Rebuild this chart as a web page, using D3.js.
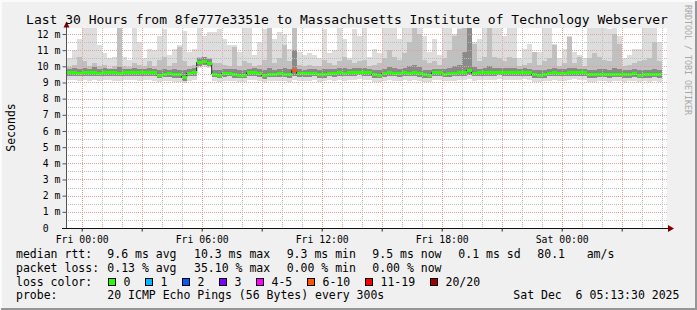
<!DOCTYPE html>
<html>
<head>
<meta charset="utf-8">
<script src="https://cdn.jsdelivr.net/npm/d3@7"></script>
<style>
body { margin: 0; background: #f0f0f0; }
svg { display: block; font-family: "DejaVu Sans Mono", monospace; }
text { white-space: pre; }
</style>
</head>
<body>
<div id="chart"></div>
<script>
// ---- data (15 minute samples starting Thu 23:15) ----
var median = [
9.60,9.62,9.58,9.62,9.60,9.63,9.58,9.60,9.62,9.60,
9.58,9.62,9.60,9.63,9.60,9.62,9.63,9.60,9.45,9.52,
9.55,9.50,9.48,9.32,9.58,9.60,10.25,10.30,10.20,9.52,
9.46,9.55,9.58,9.50,9.46,9.46,9.60,9.62,9.55,9.42,
9.52,9.52,9.55,9.52,9.50,9.75,9.56,9.56,9.56,9.58,
9.48,9.50,9.58,9.56,9.60,9.58,9.60,9.62,9.64,9.62,
9.60,9.50,9.45,9.55,9.60,9.58,9.56,9.60,9.58,9.60,
9.55,9.48,9.46,9.60,9.60,9.52,9.55,9.58,9.60,9.62,
9.75,9.58,9.60,9.62,9.60,9.62,9.64,9.62,9.60,9.60,
9.62,9.63,9.60,9.48,9.46,9.50,9.58,9.60,9.58,9.58,
9.62,9.63,9.62,9.60,9.50,9.48,9.52,9.52,9.50,9.52,
9.52,9.48,9.50,9.56,9.46,9.50,9.48,9.52,9.50];

// top of the light smoke (slowest ping)
var smokeMax = [
10.5,11.0,11.7,12.6,12.6,12.6,11.3,10.8,10.5,10.6,
12.6,10.6,10.4,12.6,11.5,10.5,11.1,11.0,11.9,12.3,
10.7,11.1,11.3,12.2,10.9,11.1,12.6,11.9,12.1,12.1,
12.3,11.7,11.3,11.3,10.9,12.6,12.6,10.7,11.5,12.3,
12.6,11.7,12.1,12.0,11.1,12.6,10.9,10.7,10.8,10.7,
10.5,12.3,10.8,11.0,12.6,11.7,10.5,12.3,11.9,12.6,
10.6,11.1,10.8,12.6,12.6,12.6,11.7,12.6,12.4,12.6,
12.6,11.9,10.9,11.7,10.7,12.6,12.6,12.0,12.6,12.6,
12.6,11.5,11.7,12.6,12.6,12.6,12.6,11.9,12.6,12.6,
10.5,11.1,11.4,10.9,10.9,12.6,12.6,11.4,10.5,11.1,
11.9,10.9,10.7,10.5,12.6,12.6,12.6,12.6,12.3,12.6,
11.9,10.5,10.7,11.1,11.1,12.6,12.6,12.6,11.5];

// top of the medium smoke
var smokeHi = [
9.95,10.1,10.6,10.3,10.0,10.2,10.0,10.1,9.9,10.0,
12.6,10.0,9.95,10.2,10.1,10.0,10.3,10.0,10.4,10.6,
10.0,10.2,11.2,10.3,10.0,10.1,10.6,10.5,10.5,10.2,
10.2,10.1,10.0,11.2,10.0,10.3,10.2,10.0,10.1,10.4,
12.6,10.2,10.5,11.3,10.3,12.6,10.1,10.0,10.1,10.0,
10.0,10.4,10.2,10.1,10.3,10.6,10.4,10.2,10.3,10.4,
10.0,10.1,10.2,10.5,11.0,10.6,10.4,10.8,11.5,12.6,
12.0,10.4,10.2,10.3,10.1,10.5,11.0,11.9,12.3,12.6,
12.6,11.4,10.3,10.6,12.6,10.6,10.5,10.3,10.6,10.5,
10.0,10.1,10.2,10.9,10.1,10.3,10.5,11.3,10.0,10.2,
11.8,10.2,10.6,10.0,10.5,10.8,10.6,10.4,10.3,12.0,
11.4,10.0,10.1,10.2,10.3,10.4,10.5,11.5,10.3];

// dark smoke band around the median
var smokeQ3 = [
9.85,9.90,9.85,9.90,9.85,9.95,9.85,9.90,9.85,9.85,
9.95,9.85,9.85,9.90,9.85,9.85,9.90,9.85,9.80,9.85,
9.80,9.85,9.80,9.75,9.85,9.90,10.50,10.55,10.45,9.80,
9.80,9.85,9.85,9.85,9.75,9.80,9.85,9.90,9.85,9.75,
9.90,9.80,9.85,9.90,9.85,11.0,9.85,9.80,9.85,9.85,
9.80,9.85,9.85,9.85,9.90,9.90,9.85,9.90,9.90,9.90,
9.85,9.80,9.75,9.85,9.95,9.90,9.85,9.90,10.0,10.1,
9.95,9.80,9.75,9.85,9.85,9.85,9.90,10.0,10.1,10.9,
12.6,9.95,9.85,9.90,10.0,9.90,9.90,9.90,9.90,9.90,
9.85,9.90,9.85,9.80,9.75,9.80,9.85,9.90,9.85,9.85,
9.90,9.90,9.85,9.85,9.80,9.80,9.85,9.85,9.80,9.90,
9.85,9.75,9.80,9.85,9.75,9.80,9.80,9.85,9.80];

var smokeQ1 = [
9.40,9.42,9.38,9.40,9.40,9.42,9.38,9.40,9.42,9.40,
9.38,9.40,9.40,9.42,9.38,9.40,9.42,9.40,9.25,9.32,
9.35,9.30,9.28,9.12,9.38,9.40,10.05,10.10,10.00,9.32,
9.28,9.35,9.38,9.30,9.28,9.28,9.40,9.42,9.35,9.22,
9.32,9.32,9.35,9.32,9.30,9.40,9.36,9.36,9.36,9.38,
9.28,9.30,9.38,9.36,9.40,9.38,9.40,9.42,9.44,9.42,
9.40,9.30,9.25,9.35,9.40,9.38,9.36,9.40,9.38,9.40,
9.35,9.28,9.26,9.40,9.40,9.32,9.35,9.38,9.40,9.42,
9.45,9.38,9.40,9.42,9.40,9.42,9.44,9.42,9.40,9.40,
9.42,9.43,9.40,9.28,9.26,9.30,9.38,9.40,9.38,9.38,
9.42,9.43,9.42,9.40,9.30,9.28,9.32,9.32,9.30,9.32,
9.32,9.28,9.30,9.36,9.26,9.30,9.28,9.32,9.30];

// bottom of the light smoke (fastest ping)
var smokeMin = [
9.15,9.18,9.12,9.15,9.12,9.18,9.10,9.15,9.18,9.12,
9.12,9.15,9.15,9.18,9.12,9.15,9.18,9.12,9.02,9.08,
9.10,9.05,9.05,8.95,9.12,9.15,9.90,9.95,9.88,9.10,
9.05,9.10,9.12,9.08,9.05,9.05,9.15,9.18,9.10,9.00,
9.08,9.10,9.12,9.08,9.05,9.15,9.12,9.10,9.12,9.15,
9.05,9.08,9.15,9.12,9.15,9.12,9.15,9.18,9.20,9.18,
9.15,9.05,9.02,9.10,9.15,9.12,9.10,9.15,9.12,9.15,
9.10,9.05,9.02,9.15,9.15,9.08,9.10,9.12,9.15,9.18,
9.20,9.12,9.15,9.18,9.15,9.18,9.20,9.18,9.15,9.15,
9.18,9.20,9.15,9.05,9.02,9.08,9.12,9.15,9.12,9.12,
9.18,9.20,9.18,9.15,9.05,9.02,9.08,9.08,9.05,9.08,
9.08,9.05,9.08,9.12,9.02,9.08,9.05,9.08,9.05];

// samples with lost pings (index, pings lost of 20)
var lossIndex = [45];
var lossCount = [7];

var lossLabels = ["0", "1", "2", "3", "4-5", "6-10", "11-19", "20/20"];
var lossColors = ["#26ff00", "#00b8ff", "#0059ff", "#7e00ff", "#ff00ff", "#ff5500", "#ff0000", "#a10000"];

var xTickLabels = ["Fri 00:00", "Fri 06:00", "Fri 12:00", "Fri 18:00", "Sat 00:00"];
var yTickValues = [0, 1, 2, 3, 4, 5, 6, 7, 8, 9, 10, 11, 12];

var rttStats = ["9.6 ms avg", "10.3 ms max", "9.3 ms min", "9.5 ms now", "0.1 ms sd", "80.1", "am/s"];
var lossStats = ["0.13 % avg", "35.10 % max", "0.00 % min", "0.00 % now"];
var probeText = "20 ICMP Echo Pings (56 Bytes) every 300s";
var stampText = "Sat Dec  6 05:13:30 2025";
var titleText = "Last 30 Hours from 8fe777e3351e to Massachusetts Institute of Technology Webserver";

// ---- layout ----
var width = 697, height = 310;
var t0 = Date.UTC(2025, 11, 4, 23, 15);
var step = 15 * 60 * 1000;
var tEnd = t0 + 120 * step;

var svg = d3.select("#chart").append("svg")
    .attr("width", width)
    .attr("height", height);

var xs = d3.scaleUtc().domain([new Date(t0), new Date(tEnd)]).range([66.7, 666.7]);
var ys = d3.scaleLinear().domain([0, 12.37]).range([228, 28]).clamp(true);

function ts(i) { return new Date(t0 + i * step); }

// background + shading border
svg.append("rect").attr("width", width).attr("height", height).attr("fill", "#f0f0f0");
svg.append("path").attr("d", "M1,309 L1,1 L697,1").attr("fill", "none").attr("stroke", "#fbfbfb").attr("stroke-width", 2);
svg.append("path").attr("d", "M1,309 L696,309 L696,1").attr("fill", "none").attr("stroke", "#969696").attr("stroke-width", 2);

// canvas
svg.append("rect")
    .attr("x", 67).attr("y", 28)
    .attr("width", 600).attr("height", 200)
    .attr("fill", "#ffffff");

var plot = svg.append("g");

//smoke layers, light -> dark
function smokeLayer(lo, hi, color) {
  plot.append("g").attr("shape-rendering", "crispEdges")
    .selectAll("rect")
    .data(median)
    .join("rect")
      .attr("x", function(d, i) { return xs(ts(i)); })
      .attr("width", function(d, i) { return xs(ts(i + 1)) - xs(ts(i)); })
      .attr("y", function(d, i) { return ys(hi[i]); })
      .attr("height", function(d, i) { return Math.max(0, ys(lo[i]) - ys(hi[i])); })
      .attr("fill", color);
}
smokeLayer(smokeMin, smokeMax, "#dddddd");
smokeLayer(smokeQ1, smokeHi, "#c0c0c0");
smokeLayer(smokeQ1, smokeQ3, "#8a8a8a");

// median: dark step line with loss coloured band on top
var medPts = median.map(function(d, i) { return [ts(i), d]; });
medPts.push([ts(median.length), median[median.length - 1]]);
plot.append("path")
    .datum(medPts)
    .attr("fill", "none")
    .attr("stroke", "#202020")
    .attr("stroke-width", 1)
    .attr("d", d3.line().curve(d3.curveStepAfter)
        .x(function(d) { return xs(d[0]); })
        .y(function(d) { return ys(d[1]); }));

function lossClass(n) {
  if (n <= 3) return n;
  if (n <= 5) return 4;
  if (n <= 10) return 5;
  if (n <= 19) return 6;
  return 7;
}
plot.append("g").attr("shape-rendering", "crispEdges")
  .selectAll("rect")
  .data(median)
  .join("rect")
    .attr("x", function(d, i) { return xs(ts(i)); })
    .attr("width", function(d, i) { return xs(ts(i + 1)) - xs(ts(i)); })
    .attr("y", function(d) { return ys(d) - 1.5; })
    .attr("height", 3)
    .attr("fill", function(d, i) {
      var k = lossIndex.indexOf(i);
      return lossColors[k < 0 ? 0 : lossClass(lossCount[k])];
    });

// axes
var yaxis = d3.axisLeft(ys).tickValues(yTickValues).tickSize(4).tickPadding(2)
    .tickFormat(function(d) { return d === 0 ? "0" : d + " m"; });
var gy = svg.append("g").attr("transform", "translate(66.5,0)").call(yaxis);
gy.select(".domain").remove();
gy.selectAll(".tick line").attr("stroke", "#555");
gy.selectAll(".tick text")
    .attr("font-family", "DejaVu Sans Mono").attr("font-size", 9.8).attr("fill", "#000")
    .attr("dx", function(d) { return d === 0 ? -11.8 : 0; });

var minorX = d3.utcHour.range(new Date(t0), new Date(tEnd));
var majorX = d3.utcHour.every(3).range(new Date(t0), new Date(tEnd));
var minorY = d3.range(0.5, 12.37, 1);

var xaxis = d3.axisBottom(xs).tickValues(majorX).tickSize(3).tickPadding(0)
    .tickFormat(function(d) {
      var h = d.getUTCHours();
      return h % 6 === 0 ? xTickLabels[Math.round((d - Date.UTC(2025, 11, 5)) / (6 * 3600e3))] : "";
    });
var gx = svg.append("g").attr("transform", "translate(0,228.5)").call(xaxis);
gx.select(".domain").remove();
gx.selectAll(".tick line").attr("stroke", "#222");
gx.selectAll(".tick text")
    .attr("font-family", "DejaVu Sans Mono").attr("font-size", 9.8).attr("fill", "#000")
    .attr("y", 14).attr("dy", null);

// grid (dotted, drawn over the data like rrdtool)
function addV(list, color) {
  list.forEach(function(d) {
    var px = Math.round(xs(d)) + 0.5;
    svg.append("line").attr("x1", px).attr("x2", px).attr("y1", 28).attr("y2", 228)
      .attr("stroke", color).attr("stroke-dasharray", "1,1");
  });
}
function addH(list, color) {
  list.forEach(function(d) {
    var py = Math.round(ys(d)) + 0.5;
    svg.append("line").attr("x1", 68).attr("x2", 667).attr("y1", py).attr("y2", py)
      .attr("stroke", color).attr("stroke-dasharray", "1,1");
  });
}
addV(minorX.filter(function(d) { return d.getUTCHours() % 3 !== 0; }), "#bdbdbd");
addH(minorY, "#bdbdbd");
addV(majorX, "#e3a0a0");
addH(yTickValues.slice(1), "#e3a0a0");

// axis lines + arrows
svg.append("line").attr("x1", 66.5).attr("x2", 66.5).attr("y1", 229).attr("y2", 24)
    .attr("stroke", "#555");
svg.append("line").attr("x1", 62).attr("x2", 669).attr("y1", 228.5).attr("y2", 228.5)
    .attr("stroke", "#111");
svg.append("path").attr("d", "M63.5,27.5 L69.5,27.5 L66.5,21.5 Z").attr("fill", "#7f0000");
svg.append("path").attr("d", "M668,225 L668,232 L674,228.5 Z").attr("fill", "#7f0000");

// title and labels
svg.append("text").attr("x", 347).attr("y", 23.5).attr("text-anchor", "middle")
    .attr("font-size", 13).attr("fill", "#000").text(titleText);
svg.append("text").attr("transform", "translate(14.5,127.5) rotate(-90)")
    .attr("text-anchor", "middle").attr("font-size", 11.5).attr("fill", "#000").text("Seconds");
svg.append("text").attr("transform", "translate(685,5) rotate(90)")
    .attr("font-size", 8.3).attr("fill", "#a8a8a8").text("RRDTOOL / TOBI OETIKER");

// legend
var leg = svg.append("g").attr("font-size", 11.5).attr("fill", "#000");
var rowY = [258.3, 271.8, 285.6, 299.3];
var statX = [107.3, 194, 286.7, 372.3, 458.3, 537.3, 586.7];

leg.append("text").attr("x", 16).attr("y", rowY[0]).text("median rtt:");
leg.selectAll(".rtt").data(rttStats).join("text")
    .attr("x", function(d, i) { return statX[i]; }).attr("y", rowY[0]).text(function(d) { return d; });

leg.append("text").attr("x", 16).attr("y", rowY[1]).text("packet loss:");
leg.selectAll(".pl").data(lossStats).join("text")
    .attr("x", function(d, i) { return statX[i]; }).attr("y", rowY[1]).text(function(d) { return d; });

leg.append("text").attr("x", 16).attr("y", rowY[2]).text("loss color:");
var boxX = [108.5, 145.5, 182.5, 219.5, 256.5, 307.5, 365.5, 430.5];
var sw = leg.selectAll(".sw").data(lossLabels).join("g");
sw.append("rect")
    .attr("x", function(d, i) { return boxX[i]; }).attr("y", 278.5)
    .attr("width", 7).attr("height", 7)
    .attr("fill", function(d, i) { return lossColors[i]; })
    .attr("stroke", "#000").attr("stroke-width", 1);
sw.append("text")
    .attr("x", function(d, i) { return boxX[i] + 15; }).attr("y", rowY[2])
    .text(function(d) { return d; });

leg.append("text").attr("x", 16).attr("y", rowY[3]).text("probe:");
leg.append("text").attr("x", 107.3).attr("y", rowY[3]).text(probeText);
leg.append("text").attr("x", 513.3).attr("y", rowY[3]).text(stampText);
</script>
</body>
</html>
